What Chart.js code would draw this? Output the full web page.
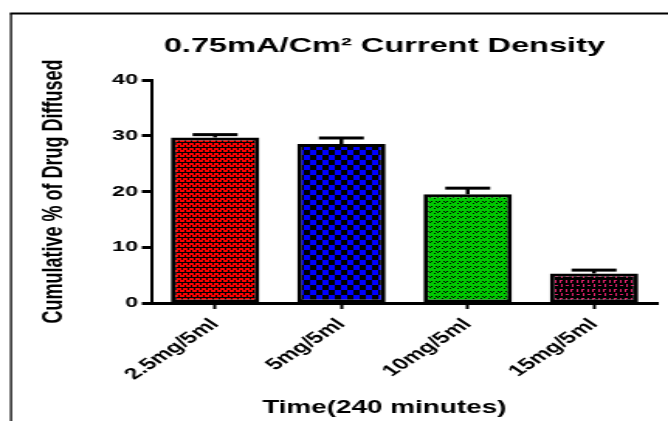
<!DOCTYPE html>
<html>
<head>
<meta charset="utf-8">
<script src="https://cdn.jsdelivr.net/npm/chart.js@4.4.0/dist/chart.umd.min.js"></script>
<style>
html,body{margin:0;padding:0;background:#fff;overflow:hidden;width:668px;height:421px;}
#wrap{width:431px;height:421px;transform:scale(1.55,1);transform-origin:0 0;}
canvas{display:block;}
</style>
</head>
<body>
<div id="wrap"><canvas id="c" width="431" height="421"></canvas></div>
<script>
const categories = ["2.5mg/5ml", "5mg/5ml", "10mg/5ml", "15mg/5ml"];
const meanValues = [29.7, 28.5, 19.5, 5.3];
const errorValues = [0.5, 1.1, 1.1, 0.6];
const yTicks = [0, 10, 20, 30, 40];
const chartTitle = "0.75mA/Cm\u00B2 Current Density";
const yTitle = "Cumulative % of Drug Diffused";
const xTitle = "Time(240 minutes)";

const FONT = '"Liberation Sans", Arial, Helvetica, sans-serif';

function makePattern(kind) {
  const c = document.createElement('canvas');
  const g = c.getContext('2d');
  if (kind === 'red') {
    c.width = 4; c.height = 5;
    g.fillStyle = '#000'; g.fillRect(0,0,4,5);
    g.fillStyle = '#ff0000';
    g.fillRect(0,0,3,2);
    g.fillRect(2,3,2,2); g.fillRect(0,3,1,2);
  } else if (kind === 'blue') {
    c.width = 8; c.height = 10;
    g.fillStyle = '#000'; g.fillRect(0,0,8,10);
    g.fillStyle = '#0000ff';
    g.fillRect(0,0,4,5); g.fillRect(4,5,4,5);
  } else if (kind === 'green') {
    c.width = 5; c.height = 5;
    g.fillStyle = '#00c800'; g.fillRect(0,0,5,5);
    g.fillStyle = '#000';
    g.fillRect(1,1,1,1); g.fillRect(2,2,1,1); g.fillRect(3,1,1,1);
    g.fillRect(0,3,1,1);
  } else {
    c.width = 7; c.height = 9;
    g.fillStyle = '#000'; g.fillRect(0,0,7,9);
    g.fillStyle = '#e0206a';
    g.fillRect(1,1,1,3); g.fillRect(4,1,2,1); g.fillRect(4,1,1,3);
    g.fillRect(1,6,2,1); g.fillRect(5,5,1,3);
  }
  return g.createPattern(c, 'repeat');
}

const framePlugin = {
  id: 'frame',
  beforeDraw(chart) {
    const ctx = chart.ctx;
    ctx.save();
    ctx.fillStyle = '#fff';
    ctx.fillRect(0,0,chart.width,chart.height);
    ctx.strokeStyle = '#000';
    ctx.lineWidth = 1.3;
    ctx.beginPath();
    ctx.moveTo(7.1, 421);
    ctx.lineTo(7.1, 13.5);
    ctx.stroke();
    ctx.lineWidth = 2;
    ctx.beginPath();
    ctx.moveTo(6.4, 13.5);
    ctx.lineTo(chart.width, 13.5);
    ctx.stroke();
    ctx.restore();
  }
};

const textPlugin = {
  id: 'titles',
  afterDraw(chart) {
    const ctx = chart.ctx;
    ctx.save();
    ctx.fillStyle = '#000';
    ctx.textAlign = 'center';
    ctx.textBaseline = 'alphabetic';
    ctx.font = 'bold 21px ' + FONT;
    ctx.fillText(chartTitle, 248, 52);
    ctx.font = 'bold 18px ' + FONT;
    ctx.fillText(xTitle, 248, 413);
    ctx.restore();
  }
};

const errorBarPlugin = {
  id: 'errorBars',
  afterDatasetsDraw(chart) {
    const ctx = chart.ctx;
    const meta = chart.getDatasetMeta(0);
    const ys = chart.scales.y;
    ctx.save();
    ctx.strokeStyle = '#000';
    meta.data.forEach((bar, i) => {
      const top = ys.getPixelForValue(meanValues[i] + errorValues[i]);
      const base = ys.getPixelForValue(meanValues[i]);
      ctx.lineWidth = 2.5;
      ctx.beginPath();
      ctx.moveTo(bar.x, base);
      ctx.lineTo(bar.x, top);
      ctx.stroke();
      ctx.lineWidth = 3;
      ctx.beginPath();
      ctx.moveTo(bar.x - 14.5, top);
      ctx.lineTo(bar.x + 14.5, top);
      ctx.stroke();
    });
    ctx.restore();
  }
};

const ctx = document.getElementById('c').getContext('2d');
new Chart(ctx, {
  type: 'bar',
  data: {
    labels: categories,
    datasets: [{
      data: meanValues,
      backgroundColor: [makePattern('red'), makePattern('blue'), makePattern('green'), makePattern('pink')],
      borderColor: '#000',
      borderWidth: 3,
      borderSkipped: false,
      barPercentage: 0.7,
      categoryPercentage: 1.0
    }]
  },
  options: {
    responsive: false,
    maintainAspectRatio: false,
    animation: false,
    devicePixelRatio: 1,
    layout: { padding: { left: 0, top: 80, right: 7, bottom: 0 } },
    plugins: {
      legend: { display: false },
      tooltip: { enabled: false },
      title: { display: false }
    },
    scales: {
      x: {
        afterFit(scale) { scale.height = 118; },
        grid: { display: true, drawOnChartArea: false, drawTicks: true, tickLength: 6, tickWidth: 2, tickColor: '#000', offset: false },
        border: { display: true, color: '#000', width: 3 },
        ticks: {
          color: '#000',
          font: { family: FONT, size: 16, weight: 'bold' },
          minRotation: 45, maxRotation: 45, padding: 6
        }
      },
      y: {
        min: 0, max: 40,
        afterFit(scale) { scale.width = 98; },
        afterBuildTicks(scale) { scale.ticks = yTicks.map(v => ({ value: v })); },
        grid: { display: true, drawOnChartArea: false, drawTicks: true, tickLength: 6.5, tickWidth: 3, tickColor: '#000' },
        border: { display: true, color: '#000', width: 2 },
        ticks: {
          color: '#000',
          font: { family: FONT, size: 15, weight: 'bold' },
          padding: 2.5
        },
        title: {
          display: true, text: yTitle, color: '#000',
          font: { family: FONT, size: 18, weight: 'bold' },
          padding: { top: 24.7, bottom: 0 }
        }
      }
    }
  },
  plugins: [framePlugin, errorBarPlugin, textPlugin]
});
</script>
</body>
</html>
